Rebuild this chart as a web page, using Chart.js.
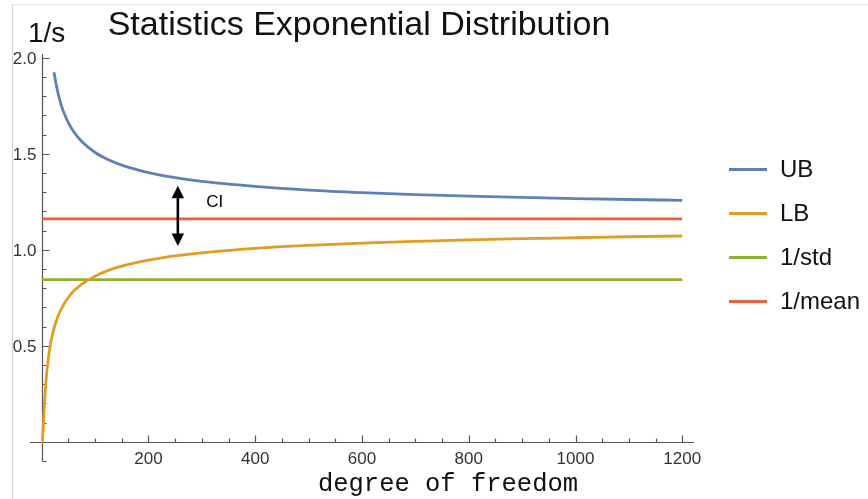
<!DOCTYPE html>
<html>
<head>
<meta charset="utf-8">
<script src="https://cdn.jsdelivr.net/npm/chart.js@4.4.1/dist/chart.umd.min.js"></script>
<style>
  html, body { margin: 0; padding: 0; background: #fff; }
  body { width: 868px; height: 499px; position: relative; overflow: hidden; }
  #frame {
    position: absolute; left: 12px; top: 4px; width: 856px; height: 495px;
    overflow: hidden; border-left: 1px solid #d4d4d4; border-top: 1px solid #e2e2e2;
  }
  #plot { position: absolute; left: -13px; top: -5px; }
  .txt {
    position: absolute; white-space: nowrap; line-height: 1;
    font-family: "Liberation Sans", Arial, Helvetica, sans-serif; color: #111;
  }
  .swatch { position: absolute; width: 38px; height: 3px; }
</style>
</head>
<body>
<div id="frame"><canvas id="plot" width="868" height="499"></canvas></div>
<div class="txt" style="left:0;width:718px;text-align:center;top:6px;font-size:34px;">Statistics Exponential Distribution</div>
<div class="txt" style="left:28px;top:19px;font-size:28px;">1/s</div>
<div class="txt" style="left:248px;width:400px;text-align:center;top:472px;font-size:25.5px;font-family:'Liberation Mono','Courier New',monospace;">degree of freedom</div>
<div id="legend"></div>
<script>
// series names / colours (Mathematica default palette)
const seriesNames = ["UB", "LB", "1/std", "1/mean"];
const seriesColors = ["#5e81b5", "#e19c24", "#8fb032", "#eb6235"];

// upper bound of the rate CI vs degree of freedom
const ubDof = [23, 25, 30, 35, 40, 50, 60, 75, 100, 125, 150, 200, 250, 300, 400, 500, 600, 700, 800, 900, 1000, 1100, 1200];
const ubValues = [1.925, 1.891, 1.822, 1.768, 1.725, 1.661, 1.615, 1.564, 1.507, 1.469, 1.441, 1.402, 1.376, 1.356, 1.330, 1.311, 1.298, 1.288, 1.280, 1.273, 1.267, 1.262, 1.258];

// lower bound
const lbDof = [0, 1, 2, 3, 4, 5, 7, 10, 15, 20, 30, 40, 50, 60, 75, 100, 125, 150, 200, 250, 300, 400, 500, 600, 700, 800, 900, 1000, 1100, 1200];
const lbValues = [0, 0.001, 0.029, 0.084, 0.141, 0.193, 0.281, 0.378, 0.486, 0.558, 0.651, 0.710, 0.753, 0.785, 0.821, 0.863, 0.893, 0.915, 0.946, 0.968, 0.984, 1.007, 1.023, 1.035, 1.044, 1.052, 1.058, 1.063, 1.068, 1.072];

// flat reference lines
const flatDof = [0, 1200];
const stdValues = [0.845, 0.845];
const meanValues = [1.161, 1.161];

// ticks
const xTickValues = [200, 400, 600, 800, 1000, 1200];
const xTickLabels = ["200", "400", "600", "800", "1000", "1200"];
const yTickValues = [0.5, 1.0, 1.5, 2.0];
const yTickLabels = ["0.5", "1.0", "1.5", "2.0"];

// CI arrow annotation (data coordinates)
const ciArrowDof = 255;
const ciArrowTop = 1.334;
const ciArrowBottom = 1.020;
const ciLabel = "CI";
const ciLabelDof = 308;
const ciLabelY = 1.223;

const TICK_FONT = '17px "Liberation Sans", Arial, sans-serif';

function toPoints(xs, ys) {
  return xs.map((x, i) => ({ x, y: ys[i] }));
}

// legend
const legend = document.getElementById("legend");
const legendRows = [169, 213, 257, 301];
seriesNames.forEach((name, i) => {
  const sw = document.createElement("div");
  sw.className = "swatch";
  sw.style.left = "729px";
  sw.style.top = (legendRows[i] - 1.5) + "px";
  sw.style.background = seriesColors[i];
  legend.appendChild(sw);
  const label = document.createElement("div");
  label.className = "txt";
  label.style.left = "780px";
  label.style.top = (legendRows[i] - 11.7) + "px";
  label.style.fontSize = "24px";
  label.textContent = name;
  legend.appendChild(label);
});

// axes drawn Mathematica-style: ticks pointing inward, axes crossing at origin
const axesPlugin = {
  id: "mmaAxes",
  beforeDatasetsDraw(chart) {
    const { ctx, scales: { x, y } } = chart;
    const x0 = Math.round(x.getPixelForValue(0)) + 0.5;
    const y0 = Math.round(y.getPixelForValue(0)) + 0.5;
    ctx.save();
    ctx.strokeStyle = "#555";
    ctx.lineWidth = 1.2;
    ctx.beginPath();
    ctx.moveTo(x.left, y0);
    ctx.lineTo(x.right, y0);
    ctx.moveTo(x0, y.top);
    ctx.lineTo(x0, y.bottom);
    for (let v = 50; v <= 1200; v += 50) {
      const px = Math.round(x.getPixelForValue(v)) + 0.5;
      const len = v % 200 === 0 ? 7 : 4;
      ctx.moveTo(px, y0);
      ctx.lineTo(px, y0 - len);
    }
    for (let i = -1; i <= 20; i++) {
      const py = Math.round(y.getPixelForValue(i / 10)) + 0.5;
      const len = i % 5 === 0 ? 7 : 4;
      ctx.moveTo(x0, py);
      ctx.lineTo(x0 + len, py);
    }
    ctx.stroke();

    ctx.fillStyle = "#333";
    ctx.font = TICK_FONT;
    ctx.textAlign = "center";
    ctx.textBaseline = "alphabetic";
    xTickValues.forEach((v, i) => {
      ctx.fillText(xTickLabels[i], x.getPixelForValue(v), y0 + 21);
    });
    ctx.textAlign = "right";
    yTickValues.forEach((v, i) => {
      ctx.fillText(yTickLabels[i], x0 - 6, y.getPixelForValue(v) + 6);
    });
    ctx.restore();
  },
};

const arrowPlugin = {
  id: "ciArrow",
  afterDatasetsDraw(chart) {
    const { ctx, scales: { x, y } } = chart;
    const px = x.getPixelForValue(ciArrowDof);
    const top = y.getPixelForValue(ciArrowTop);
    const bottom = y.getPixelForValue(ciArrowBottom);
    const headH = 12.5;
    const headW = 6.2;
    ctx.save();
    ctx.strokeStyle = "#000";
    ctx.fillStyle = "#000";
    ctx.lineWidth = 2.6;
    ctx.beginPath();
    ctx.moveTo(px, top + headH - 1);
    ctx.lineTo(px, bottom - headH + 1);
    ctx.stroke();
    ctx.beginPath();
    ctx.moveTo(px, top);
    ctx.lineTo(px - headW, top + headH);
    ctx.lineTo(px + headW, top + headH);
    ctx.closePath();
    ctx.fill();
    ctx.beginPath();
    ctx.moveTo(px, bottom);
    ctx.lineTo(px - headW, bottom - headH);
    ctx.lineTo(px + headW, bottom - headH);
    ctx.closePath();
    ctx.fill();

    ctx.font = TICK_FONT;
    ctx.textAlign = "left";
    ctx.textBaseline = "alphabetic";
    ctx.fillText(ciLabel, x.getPixelForValue(ciLabelDof), y.getPixelForValue(ciLabelY));
    ctx.restore();
  },
};

function lineDataset(i, points) {
  return {
    label: seriesNames[i],
    data: points,
    borderColor: seriesColors[i],
    borderWidth: 2.8,
    pointRadius: 0,
    fill: false,
    cubicInterpolationMode: "monotone",
  };
}

new Chart(document.getElementById("plot"), {
  type: "line",
  data: {
    datasets: [
      lineDataset(0, toPoints(ubDof, ubValues)),
      lineDataset(1, toPoints(lbDof, lbValues)),
      lineDataset(2, toPoints(flatDof, stdValues)),
      lineDataset(3, toPoints(flatDof, meanValues)),
    ],
  },
  options: {
    responsive: false,
    animation: false,
    devicePixelRatio: 1,
    layout: { padding: { left: 30, right: 174, top: 54, bottom: 38 } },
    plugins: { legend: { display: false }, tooltip: { enabled: false } },
    scales: {
      x: { type: "linear", min: -22, max: 1222, display: false },
      y: { type: "linear", min: -0.1, max: 2.02, display: false },
    },
  },
  plugins: [axesPlugin, arrowPlugin],
});
</script>
</body>
</html>
